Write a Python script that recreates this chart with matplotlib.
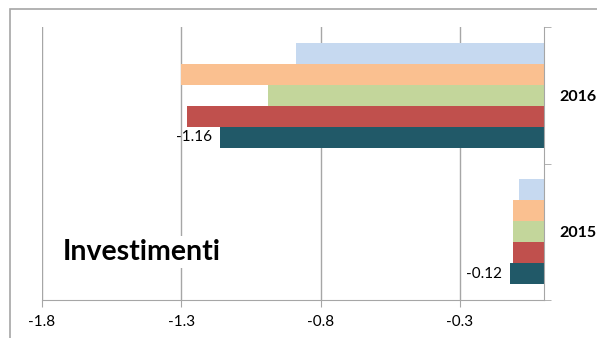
import matplotlib.pyplot as plt
from matplotlib.patches import Rectangle
import numpy as np

plt.rcParams['font.family'] = ['Lato', 'DejaVu Sans']

anni = ['2015', '2016']
# valori per serie, dal basso verso l'alto in ogni gruppo
serie = [
    [-0.12, -1.16],   # blu scuro
    [-0.11, -1.28],   # rosso
    [-0.11, -0.99],   # verde
    [-0.11, -1.30],   # arancio
    [-0.09, -0.89],   # azzurro
]
colori = ['#215968', '#C0504D', '#C3D69B', '#FAC090', '#C6D9F0']
xticks = [-1.8, -1.3, -0.8, -0.3]

fig = plt.figure(figsize=(5.97, 3.38), dpi=100)
ax = fig.add_axes([0.0704, 0.1124, 0.8402, 0.8077])

# cornice esterna del grafico
fig.patches.append(Rectangle((0.0168, -0.1), 1.1, 1.0734, transform=fig.transFigure,
                             fill=False, edgecolor='#A6A6A6', linewidth=1.2))

pos = np.arange(len(anni))
h = 0.154
for i, (vals, c) in enumerate(zip(serie, colori)):
    bars = ax.barh(pos + (i - 2) * h, vals, height=h, color=c, zorder=2)
    if i == 0:
        for b, v in zip(bars, vals):
            ax.annotate(f'{v:.2f}', (v, b.get_y() + h / 2), xytext=(-6, 0),
                        textcoords='offset points', ha='right', va='center',
                        fontsize=11, color='#000000')

ax.set_xlim(-1.8, 0)
ax.set_ylim(-0.5, 1.5)
ax.set_xticks(xticks)
ax.set_xticklabels([f'{t:.1f}' for t in xticks], fontsize=11)
ax.tick_params(axis='x', length=5, color='#A6A6A6', pad=6)
ax.grid(axis='x', color='#A6A6A6', linewidth=1, zorder=0)

ax.yaxis.tick_right()
ax.set_yticks(pos)
ax.set_yticklabels(anni, fontsize=11.5, fontweight='bold')
ax.tick_params(axis='y', which='major', length=0, pad=11)
ax.set_yticks([-0.5, 0.5, 1.5], minor=True)
ax.tick_params(axis='y', which='minor', length=5, color='#A6A6A6', direction='out')

for s in ['top', 'left']:
    ax.spines[s].set_visible(False)
for s in ['bottom', 'right']:
    ax.spines[s].set_color('#A6A6A6')

ax.text(0.042, 0.176, 'Investimenti', transform=ax.transAxes, fontsize=20.5,
        fontweight='bold', ha='left', va='center', zorder=3,
        bbox=dict(facecolor='white', edgecolor='none', pad=2))

fig.savefig('out.png', dpi=100)
